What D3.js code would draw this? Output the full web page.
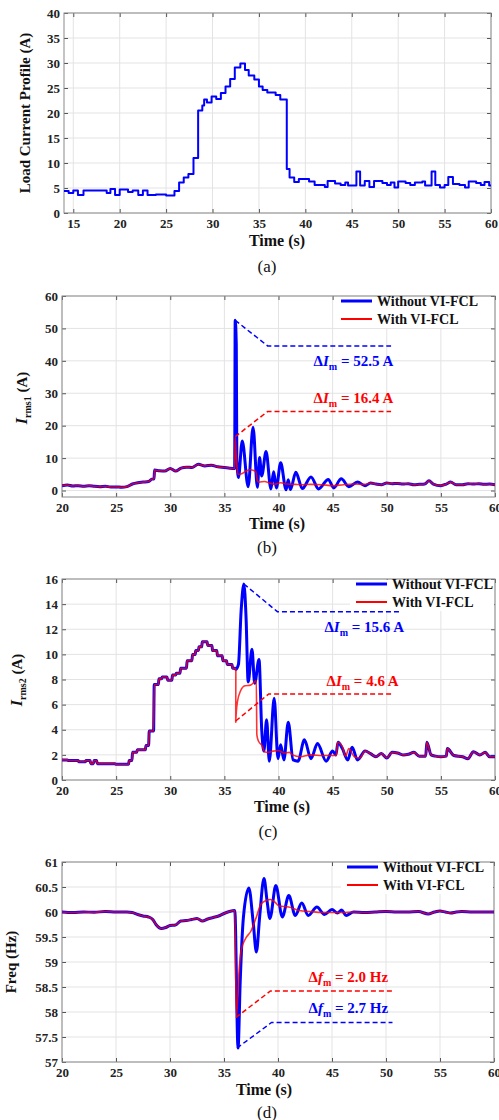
<!DOCTYPE html>
<html>
<head>
<meta charset="utf-8">
<script src="https://cdn.jsdelivr.net/npm/d3@7"></script>
<style>
  body { margin: 0; background: #fff; }
  svg { display: block; }
  text { font-family: "Liberation Serif", "Times New Roman", serif; }
  .tick text { font-family: "Liberation Serif", "Times New Roman", serif; font-weight: bold; font-size: 13px; fill: #222; }
  .tick line { stroke: #555; }
</style>
</head>
<body>
<script>
// ---- data ----
// (a) load current profile, step-after [time s, A]
var loadProfile = [[14.0,4.4],[14.5,4.0],[15.0,4.5],[15.5,3.6],[16.1,4.5],[18.6,4.0],[19.0,4.8],[19.5,3.6],[20.0,4.7],[20.9,4.2],[21.4,4.5],[22.0,3.6],[22.5,4.5],[23.0,3.6],[23.9,3.7],[25.0,3.5],[25.9,4.4],[26.4,6.1],[26.9,7.1],[27.4,7.8],[27.95,11.0],[28.45,20.5],[28.9,21.5],[29.1,22.7],[29.4,22.1],[29.9,23.3],[30.4,22.8],[30.9,24.0],[31.4,25.3],[31.9,26.8],[32.4,29.1],[33.0,29.9],[33.5,28.6],[33.9,27.5],[34.5,26.7],[35.0,25.3],[35.4,24.6],[35.9,24.1],[36.8,23.6],[37.3,22.7],[38.0,8.8],[38.3,7.1],[38.8,6.2],[39.3,6.8],[40.4,6.3],[41.0,5.6],[42.1,5.2],[42.4,6.4],[43.2,5.9],[43.8,5.6],[44.3,6.1],[44.6,5.5],[45.5,8.3],[45.9,5.5],[46.4,6.4],[46.9,5.2],[47.4,6.4],[48.3,6.0],[48.8,5.6],[49.2,6.1],[49.6,5.1],[50.0,6.3],[50.8,6.0],[51.3,5.6],[51.8,6.1],[52.6,6.3],[52.9,5.5],[53.6,8.3],[54.0,5.6],[54.5,5.1],[55.0,5.6],[55.4,7.2],[55.9,5.8],[56.6,5.6],[57.2,5.1],[57.6,6.3],[58.4,6.0],[58.9,5.6],[59.3,6.2],[59.8,5.5],[60,5.5]];

// (b) Irms1
var rms1Pre = [[20,1.5],[20.5,1.7],[21,1.4],[21.5,1.5],[22,1.3],[22.5,1.5],[23,1.3],[23.5,1.2],[24,1.3],[24.5,1.1],[25,1.1],[25.5,1.0],[26,1.2],[26.5,2.0],[27,2.4],[27.5,2.6],[28,2.8],[28.3,3.5],[28.5,3.6],[28.55,6.3],[29,6.1],[29.5,6.0],[30,6.8],[30.5,6.0],[31,6.9],[31.5,7.2],[32,7.1],[32.6,8.1],[33.2,7.6],[33.8,7.8],[34.4,7.3],[35,7.1],[35.5,6.9],[35.95,6.8]];
var rms1Without = [[36.0,52.5],[36.1,45],[36.15,10],[36.3,4.0],[36.65,15.3],[37.2,1.2],[37.65,19.5],[38.05,1.0],[38.25,10.2],[38.45,4.5],[38.85,12.0],[39.3,0.5],[39.55,5.8],[39.8,0.8],[40.2,8.6],[40.7,0.2],[40.9,3.3],[41.1,0.3],[41.6,5.6],[42.2,0.6],[43.0,4.2],[43.7,0.5],[44.6,3.4],[45.1,0.8],[45.8,3.6],[46.5,1.2],[47.3,2.6],[48.0,1.5]];
var rms1With = [[36.0,16.4],[36.08,12],[36.15,8],[36.25,5.0],[36.6,5.2],[37.0,6.0],[37.4,6.4],[37.9,5.9],[38.05,3.0],[38.2,2.6],[38.7,2.8],[39.2,2.3],[39.6,1.9],[40.2,2.4],[40.8,2.0],[41.5,1.9],[42.2,1.8],[43,1.9],[44,1.8],[45,1.5],[46,1.8],[47,2.0],[48.0,1.9]];
var rms1Tail = [[48.5,2.3],[49,2.0],[49.5,1.8],[50,2.3],[50.5,2.1],[51,2.2],[51.5,2.0],[52,2.1],[52.5,1.8],[53,1.9],[53.5,2.0],[53.9,3.0],[54.3,2.0],[55,1.5],[55.5,2.0],[55.9,2.6],[56.4,1.8],[57,1.8],[57.5,2.1],[58,2.0],[58.5,2.1],[59,1.9],[59.5,2.0],[60,1.8]];

// (c) Irms2, pre-fault part is stepped
var rms2PreSteps = [[20,1.6],[20.5,1.55],[21.5,1.45],[22.15,1.55],[22.6,1.3],[22.9,1.55],[23.2,1.3],[23.7,1.3],[24.9,1.25],[26.15,1.55],[26.46,2.2],[26.9,2.4],[27.7,2.75],[28.0,3.9],[28.46,7.6],[28.9,8.05],[29.2,8.2],[29.7,7.95],[30.15,8.35],[30.5,8.5],[30.9,8.9],[31.5,9.5],[32.0,10.0],[32.3,10.3],[32.6,10.6],[32.9,11.0],[33.4,10.7],[33.85,10.3],[34.3,9.9],[34.8,9.5],[35.2,9.2],[35.7,8.9],[36.0,8.8]];
var rms2Without = [[36.3,9.2],[36.55,13.5],[36.8,15.6],[37.0,13.0],[37.2,7.8],[37.55,10.4],[37.8,7.7],[38.2,9.6],[38.45,4.0],[38.65,2.3],[38.9,4.8],[39.15,1.5],[39.6,6.5],[39.95,1.7],[40.2,2.8],[40.5,1.6],[40.9,4.6],[41.35,1.6],[41.8,1.5],[42.4,3.2],[43.0,1.7],[43.6,2.9],[44.4,1.5],[45.0,2.3],[45.3,2.0],[45.5,3.0],[45.9,2.5],[46.4,1.6],[46.8,2.6],[47.3,1.6],[48.0,2.3]];
var rms2With = [[36.05,4.6],[36.2,6.2],[36.5,7.1],[36.9,7.5],[37.4,7.55],[37.95,7.9],[38.0,3.6],[38.15,3.1],[38.5,2.7],[38.7,2.25],[39.0,2.2],[39.5,2.3],[40.0,2.35],[40.5,2.15],[41.0,2.2],[41.3,2.0],[42.0,1.85],[43.0,2.0],[44.0,1.95],[45.0,1.95],[45.35,1.95],[45.45,3.0],[45.9,2.65],[46.2,1.9],[46.5,2.5],[47.0,1.85],[47.5,1.75],[48.0,2.3]];
var rms2Tail = [[48.5,2.1],[49.0,1.85],[49.5,2.1],[50.0,1.75],[50.5,2.2],[51.0,2.15],[51.5,2.0],[52.0,2.05],[52.5,2.2],[53.0,1.9],[53.6,1.9],[53.7,3.0],[54.1,2.0],[54.5,1.9],[55.0,1.85],[55.5,1.9],[55.6,2.5],[56.2,1.95],[57.0,1.85],[57.5,1.7],[58.0,2.25],[58.6,2.0],[59.1,2.2],[59.5,1.85],[60,1.85]];

// (d) frequency
var freqPre = [[20,60.0],[21,59.99],[22,60.0],[23,59.995],[24,60.01],[25,60.0],[26,60.0],[26.5,59.99],[27,59.95],[27.5,59.92],[28,59.9],[28.4,59.85],[28.7,59.75],[29.2,59.67],[29.6,59.69],[30,59.73],[30.5,59.74],[31,59.82],[31.5,59.83],[32,59.85],[32.5,59.87],[33,59.82],[33.5,59.86],[34,59.89],[34.5,59.92],[35,59.97],[35.5,60.01],[36.0,60.03]];
var freqWithout = [[36.3,57.28],[36.5,58.6],[36.8,59.9],[37.3,60.48],[37.7,59.8],[38.0,59.2],[38.3,59.9],[38.7,60.67],[39.0,60.2],[39.25,59.87],[39.8,60.53],[40.4,59.9],[41.0,60.33],[41.6,59.93],[42.2,60.18],[42.8,59.93],[43.6,60.1],[44.3,59.95],[45.0,60.05],[45.5,59.98],[45.9,60.04],[46.3,59.93],[47.0,60.0]];
var freqWith = [[36.15,57.9],[36.4,58.84],[36.6,59.24],[37.0,59.47],[37.5,59.62],[38.0,59.9],[38.4,60.15],[38.9,60.23],[39.3,60.25],[39.7,60.2],[40.1,60.12],[41,60.1],[42,60.03],[43,60.01],[44,59.99],[45,59.99],[46,59.99],[47,60.0]];
var freqTail = [[48,59.99],[49,60.0],[50,60.01],[51,60.0],[52,60.0],[53,60.01],[53.9,59.96],[54.5,60.0],[55,60.02],[55.5,60.0],[56,59.98],[56.5,60.0],[57,60.01],[58,60.0],[59,60.0],[60,60.0]];

// peak markers (dashed leaders) and their labels
var annB = { blue: [[36.0,52.5],[39.0,44.6],[50.4,44.6]], red: [[36.0,16.6],[39.0,24.4],[50.4,24.4]] };
var annC = { blue: [[36.8,15.6],[39.9,13.4],[51.4,13.4]], red: [[36.05,4.7],[39.1,6.85],[50.5,6.85]] };
var annD = { red: [[36.1,57.89],[39.3,58.42],[50.6,58.42]], blue: [[36.2,57.28],[39.4,57.79],[50.6,57.79]] };
var labB = [{sym:"I", val:"52.5 A", at:[50.6,38.4], c:"blue"}, {sym:"I", val:"16.4 A", at:[50.6,27.0], c:"red"}];
var labC = [{sym:"I", val:"15.6 A", at:[51.6,11.8], c:"blue"}, {sym:"I", val:"4.6 A", at:[51.1,7.5], c:"red"}];
var labD = [{sym:"f", val:"2.0 Hz", at:[50.2,58.6], c:"red"}, {sym:"f", val:"2.7 Hz", at:[50.2,57.98], c:"blue"}];

var xTicksA = [15,20,25,30,35,40,45,50,55,60];
var xTicks = [20,25,30,35,40,45,50,55,60];
var yTicksA = [0,5,10,15,20,25,30,35,40];
var yTicksB = [0,10,20,30,40,50,60];
var yTicksC = [0,2,4,6,8,10,12,14,16];
var yTicksD = [57,57.5,58,58.5,59,59.5,60,60.5,61];
var legendNames = ["Without VI-FCL", "With VI-FCL"];

var BLUE = "#0000ff", RED = "#ff0000";
var SERIF = '"Liberation Serif", "Times New Roman", serif';

// turn a step list into points for a smooth-curve line
function stepPts(arr) {
  var out = [arr[0]];
  for (var i = 1; i < arr.length; i++) {
    out.push([arr[i][0], arr[i-1][1]]);
    out.push([arr[i][0] + 0.06, arr[i][1]]);
  }
  return out;
}

var svg = d3.select("body").append("svg").attr("width", 499).attr("height", 1120);

function panel(p) {
  var x = d3.scaleLinear().domain(p.xd).range([p.l, p.r]);
  var y = d3.scaleLinear().domain(p.yd).range([p.b, p.t]);
  var g = svg.append("g");
  var cid = "clip" + p.id;
  svg.append("clipPath").attr("id", cid).append("rect")
    .attr("x", p.l).attr("y", p.t).attr("width", p.r - p.l).attr("height", p.b - p.t);

  // grid
  g.selectAll(".gx").data(p.xt).enter().append("line")
    .attr("x1", d => x(d)).attr("x2", d => x(d)).attr("y1", p.t).attr("y2", p.b)
    .attr("stroke", "#e3e3e3").attr("stroke-width", 1);
  g.selectAll(".gy").data(p.yt).enter().append("line")
    .attr("x1", p.l).attr("x2", p.r).attr("y1", d => y(d)).attr("y2", d => y(d))
    .attr("stroke", "#e3e3e3").attr("stroke-width", 1);

  // axes with inward ticks
  var fmt = d => String(d);
  g.append("g").attr("transform", "translate(0," + p.b + ")")
    .call(d3.axisBottom(x).tickValues(p.xt).tickSizeInner(-4).tickSizeOuter(0).tickPadding(6).tickFormat(fmt))
    .attr("font-family", SERIF);
  g.append("g").attr("transform", "translate(" + p.l + ",0)")
    .call(d3.axisLeft(y).tickValues(p.yt).tickSizeInner(-4).tickSizeOuter(0).tickPadding(4).tickFormat(fmt))
    .attr("font-family", SERIF);
  g.append("g").attr("transform", "translate(0," + p.t + ")")
    .call(d3.axisTop(x).tickValues(p.xt).tickSizeInner(-4).tickSizeOuter(0).tickFormat(""));
  g.append("g").attr("transform", "translate(" + p.r + ",0)")
    .call(d3.axisRight(y).tickValues(p.yt).tickSizeInner(-4).tickSizeOuter(0).tickFormat(""));
  g.selectAll(".domain").remove();
  g.append("rect").attr("x", p.l).attr("y", p.t).attr("width", p.r - p.l).attr("height", p.b - p.t)
    .attr("fill", "none").attr("stroke", "#8a8a8a").attr("stroke-width", 1);

  var plot = g.append("g").attr("clip-path", "url(#" + cid + ")");
  var line = d3.line().x(d => x(d[0])).y(d => y(d[1])).curve(p.curve || d3.curveMonotoneX);
  p.series.forEach(function (s) {
    plot.append("path").attr("d", line(s.pts)).attr("fill", "none")
      .attr("stroke", s.c).attr("stroke-width", s.w).attr("stroke-opacity", s.o || 1)
      .attr("stroke-linejoin", "round");
  });

  // dashed leaders
  if (p.ann) {
    var lin = d3.line().x(d => x(d[0])).y(d => y(d[1]));
    [["blue", BLUE], ["red", RED]].forEach(function (k) {
      g.append("path").attr("d", lin(p.ann[k[0]])).attr("fill", "none")
        .attr("stroke", k[1]).attr("stroke-width", 1.5).attr("stroke-dasharray", "5,3");
    });
    p.labs.forEach(function (L) {
      var col = L.c == "blue" ? BLUE : RED;
      var t = g.append("text").attr("x", x(L.at[0])).attr("y", y(L.at[1]))
        .attr("text-anchor", "end").attr("font-weight", "bold").attr("font-size", 15).attr("fill", col);
      t.append("tspan").text("Δ");
      t.append("tspan").attr("font-style", "italic").text(L.sym);
      t.append("tspan").attr("font-size", 10).attr("dy", 4).text("m");
      t.append("tspan").attr("dy", -4).text(" = " + L.val);
    });
  }

  // legend
  if (p.leg) {
    g.append("rect").attr("x", p.leg[0] - 6).attr("y", p.t + 1).attr("width", p.r - p.leg[0] + 5).attr("height", 31).attr("fill", "#fff");
    legendNames.forEach(function (n, i) {
      var ly = p.leg[1] + i * 18;
      g.append("line").attr("x1", p.leg[0]).attr("x2", p.leg[0] + 31).attr("y1", ly).attr("y2", ly)
        .attr("stroke", i == 0 ? BLUE : RED).attr("stroke-width", i == 0 ? 3 : 2);
      g.append("text").attr("x", p.leg[0] + 36).attr("y", ly + 5).attr("font-weight", "bold")
        .attr("font-size", 14).attr("fill", "#111").text(n);
    });
  }

  // titles
  svg.append("text").attr("x", p.xlab[0]).attr("y", p.xlab[1]).attr("text-anchor", "middle")
    .attr("font-weight", "bold").attr("font-size", 16).attr("fill", "#111").text("Time (s)");
  svg.append("text").attr("x", p.cap[0]).attr("y", p.cap[1]).attr("text-anchor", "middle")
    .attr("font-size", 17).attr("fill", "#111").text(p.capText);
  var yl = svg.append("text").attr("transform", "translate(" + p.ylab[0] + "," + p.ylab[1] + ") rotate(-90)")
    .attr("text-anchor", "middle").attr("font-weight", "bold").attr("font-size", 15).attr("fill", "#111");
  p.ylabel(yl);
}

function irmsLabel(sub) {
  return function (t) {
    t.append("tspan").attr("font-style", "italic").attr("font-size", 16).text("I");
    t.append("tspan").attr("font-size", 10).attr("dy", 4).text(sub);
    t.append("tspan").attr("dy", -4).text(" (A)");
  };
}

panel({ id: "a", l: 64, r: 491, t: 13, b: 213, xd: [14, 60], yd: [0, 40], xt: xTicksA, yt: yTicksA,
  curve: d3.curveStepAfter,
  series: [{ pts: loadProfile, c: BLUE, w: 2 }],
  xlab: [277, 246], cap: [267, 272], capText: "(a)", ylab: [30, 113],
  ylabel: function (t) { t.text("Load Current Profile (A)"); } });

panel({ id: "b", l: 62, r: 495, t: 296, b: 497, xd: [20, 60], yd: [-2, 60], xt: xTicks, yt: yTicksB,
  series: [
    { pts: rms1Pre.concat(rms1Without, rms1Tail), c: BLUE, w: 3 },
    { pts: rms1Pre.concat(rms1With, rms1Tail), c: RED, w: 1.6, o: 0.8 }],
  ann: annB, labs: labB, leg: [341, 301],
  xlab: [277, 529], cap: [267, 553], capText: "(b)", ylab: [27, 398], ylabel: irmsLabel("rms1") });

panel({ id: "c", l: 62, r: 495, t: 579, b: 780, xd: [20, 60], yd: [0, 16], xt: xTicks, yt: yTicksC,
  series: [
    { pts: stepPts(rms2PreSteps).concat(rms2Without, rms2Tail), c: BLUE, w: 3 },
    { pts: stepPts(rms2PreSteps).concat(rms2With, rms2Tail), c: RED, w: 1.6, o: 0.8 }],
  ann: annC, labs: labC, leg: [356, 584],
  xlab: [282, 812], cap: [268, 837], capText: "(c)", ylab: [22, 680], ylabel: irmsLabel("rms2") });

panel({ id: "d", l: 62, r: 494, t: 862, b: 1062, xd: [20, 60], yd: [57, 61], xt: xTicks, yt: yTicksD,
  series: [
    { pts: freqPre.concat(freqWithout, freqTail), c: BLUE, w: 3 },
    { pts: freqPre.concat(freqWith, freqTail), c: RED, w: 1.6, o: 0.8 }],
  ann: annD, labs: labD, leg: [347, 867],
  xlab: [264, 1095], cap: [267, 1118], capText: "(d)", ylab: [16, 962],
  ylabel: function (t) { t.text("Freq (Hz)"); } });
</script>
</body>
</html>
